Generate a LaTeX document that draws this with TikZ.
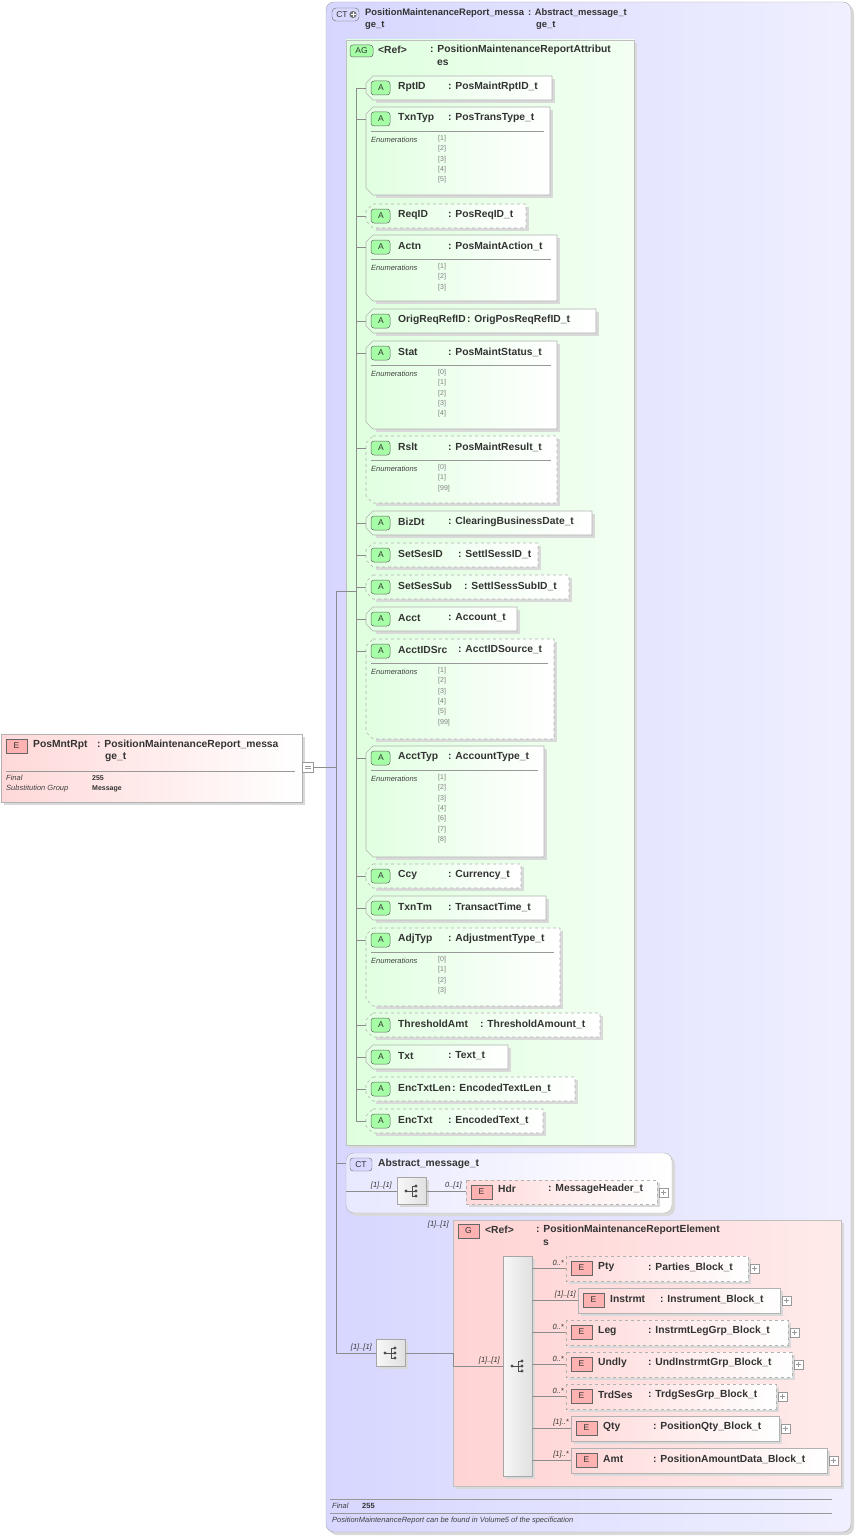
\documentclass[tikz,border=0pt]{standalone}
\usepackage{fontspec}
\setmainfont{Liberation Sans}
\begin{document}
\begin{tikzpicture}[x=1pt,y=-1pt,
  every node/.style={inner sep=0pt, font=\fontsize{10.3}{12}\selectfont\bfseries, text=black!80},
  head/.style={font=\fontsize{9.4}{11}\selectfont\bfseries},
  line/.style={draw=black!45, line width=0.6pt},
  attrbox/.style={draw=black!30, line width=0.6pt, left color=green!12, right color=white},
  elbox/.style={draw=black!30, line width=0.6pt, left color=red!15, right color=white},
  badgeA/.style={draw=black!60, fill=green!35, rounded corners=3pt, line width=0.5pt},
  badgeE/.style={draw=black!60, fill=red!30, line width=0.5pt},
  badgetext/.style={font=\fontsize{8.5}{9}\selectfont\mdseries},
  small/.style={font=\fontsize{7.5}{9}\selectfont\itshape, text=black!75},
  enum/.style={font=\fontsize{7}{10.4}\selectfont, text=black!50, align=left},
  plus/.style={draw=black!40, fill=white, line width=0.4pt}]
\useasboundingbox (0,0) rectangle (856,1536);

% outer complex type
\fill[black!15, rounded corners=8pt] (329,5) rectangle (854,1535);
\draw[draw=black!35, left color=blue!16, right color=blue!6, rounded corners=8pt] (326,2) rectangle (851,1532);
\draw[draw=black!60, fill=blue!15, rounded corners=4pt] (332,8) rectangle (359,21);
\node[badgetext] at (342,14.5) {CT};
\fill[black!55] (353,14.5) circle (3.6pt);
\draw[white, line width=0.8pt] (350.5,14.5) -- (355.5,14.5) (353,12) -- (353,17);
\node[head, anchor=west] (ctname) at (365,13) {PositionMaintenanceReport\_messa};
\node[head, anchor=west] at (365,25) {ge\_t};
\node[head, anchor=west] (cttype) at (528,13) {: Abstract\_message\_t};
\node[head, anchor=west] at (536,25) {ge\_t};

% attribute group
\fill[black!15] (349,43) rectangle (637,1148);
\draw[draw=black!25, left color=green!13, right color=green!5] (346,40) rectangle (634,1145);
\draw[badgeA] (350,45) rectangle (373,57);
\node[badgetext] at (361.5,51) {AG};
\node[anchor=west] (agref) at (378,50) {<Ref>};
\node[anchor=west] (agtype) at (430,50) {: PositionMaintenanceReportAttribut};
\node[anchor=west] at (437,63) {es};

\newcommand\attr[8]{%
  \fill[black!15] (376,#1+3) -- (#3+3,#1+3) -- (#3+3,#2+3) -- (376,#2+3) -- cycle;
  \draw[attrbox,#4] (373,#1) -- (#3,#1) -- (#3,#2) -- (373,#2) -- (366,#2-7) -- (366,#1+7) -- cycle;
  \draw[badgeA] (371,#1+5) rectangle (390,#1+19);
  \node[badgetext] at (381,#1+12) {A};
  \node[anchor=west] (n#5) at (398,#1+11) {#5};
  \node[anchor=west] (t#5) at (#6,#1+11) {: #7};
  \draw[line] (356,#1+12) -- (366,#1+12);
  \if\relax\detokenize{#8}\relax\else
    \draw[draw=black!40, line width=0.5pt] (371,#1+24) -- (#3-6,#1+24);
    \node[small, anchor=west] (e#5) at (371,#1+33) {Enumerations};
    \node[enum, anchor=north west] at (438,#1+28) {#8};
  \fi}

\draw[line] (356,88) -- (356,1121);
\attr{76}{100}{552}{solid}{RptID}{448}{PosMaintRptID\_t}{}
\attr{107}{195}{550}{solid}{TxnTyp}{448}{PosTransType\_t}{{[1]}\\{[2]}\\{[3]}\\{[4]}\\{[5]}}
\attr{204}{228}{526}{dashed}{ReqID}{448}{PosReqID\_t}{}
\attr{235}{301}{557}{solid}{Actn}{448}{PosMaintAction\_t}{{[1]}\\{[2]}\\{[3]}}
\attr{309}{333}{596}{solid}{OrigReqRefID}{467}{OrigPosReqRefID\_t}{}
\attr{341}{429}{557}{solid}{Stat}{448}{PosMaintStatus\_t}{{[0]}\\{[1]}\\{[2]}\\{[3]}\\{[4]}}
\attr{436}{503}{557}{dashed}{Rslt}{448}{PosMaintResult\_t}{{[0]}\\{[1]}\\{[99]}}
\attr{511}{535}{592}{solid}{BizDt}{448}{ClearingBusinessDate\_t}{}
\attr{543}{567}{538}{dashed}{SetSesID}{458}{SettlSessID\_t}{}
\attr{575}{599}{569}{dashed}{SetSesSub}{464}{SettlSessSubID\_t}{}
\attr{607}{631}{517}{solid}{Acct}{448}{Account\_t}{}
\attr{639}{739}{554}{dashed}{AcctIDSrc}{458}{AcctIDSource\_t}{{[1]}\\{[2]}\\{[3]}\\{[4]}\\{[5]}\\{[99]}}
\attr{746}{857}{544}{solid}{AcctTyp}{448}{AccountType\_t}{{[1]}\\{[2]}\\{[3]}\\{[4]}\\{[6]}\\{[7]}\\{[8]}}
\attr{864}{888}{521}{dashed}{Ccy}{448}{Currency\_t}{}
\attr{896}{920}{546}{solid}{TxnTm}{448}{TransactTime\_t}{}
\attr{928}{1006}{560}{dashed}{AdjTyp}{448}{AdjustmentType\_t}{{[0]}\\{[1]}\\{[2]}\\{[3]}}
\attr{1013}{1037}{600}{dashed}{ThresholdAmt}{480}{ThresholdAmount\_t}{}
\attr{1045}{1069}{508}{solid}{Txt}{448}{Text\_t}{}
\attr{1077}{1101}{575}{dashed}{EncTxtLen}{452}{EncodedTextLen\_t}{}
\attr{1109}{1133}{543}{dashed}{EncTxt}{448}{EncodedText\_t}{}

% sequence icon
\newcommand\seqicon[3]{%
  \fill[black!15] (#2-12,#3-11) rectangle (#2+17,#3+16);
  \draw[draw=black!35, left color=black!3, right color=black!12] (#2-15,#3-14) rectangle (#2+14,#3+13);
  \coordinate (#1) at (#2,#3);
  \fill[black!70] (#2-6,#3) circle (1.6pt) (#2+4,#3-5) circle (1.6pt) (#2+4,#3) circle (1.6pt) (#2+4,#3+5) circle (1.6pt);
  \draw[black!70, line width=0.7pt] (#2-6,#3) -- (#2+4,#3) (#2,#3-5) -- (#2,#3+5) (#2,#3-5) -- (#2+4,#3-5) (#2,#3+5) -- (#2+4,#3+5);}
\newcommand\card[3]{\node[small, text=black!80, anchor=south east] at (#1,#2) {#3};}

% abstract message type
\fill[black!15, rounded corners=8pt] (349,1156) rectangle (675,1216);
\draw[draw=black!30, left color=blue!9, right color=white, rounded corners=8pt] (346,1153) rectangle (672,1213);
\draw[draw=black!60, fill=blue!15, rounded corners=3pt] (350,1158) rectangle (372,1171);
\node[badgetext] at (361,1164.5) {CT};
\node[anchor=west] (absname) at (378,1164) {Abstract\_message\_t};
\seqicon{seq1}{412}{1191}
\card{392}{1189}{[1]..[1]}
\card{462}{1189}{0..[1]}
\fill[black!15] (469,1183) rectangle (660,1207);
\draw[elbox, dashed] (466,1180) rectangle (657,1204);
\draw[badgeE] (471,1185) rectangle (492,1199);
\node[badgetext] at (481.5,1192) {E};
\node[anchor=west] (hdr) at (498,1189) {Hdr};
\node[anchor=west] at (548,1189) {: MessageHeader\_t};
\draw[plus] (659,1188) rectangle (668,1197);
\draw[black!40, line width=0.4pt] (661,1192.5) -- (666,1192.5) (663.5,1190) -- (663.5,1195);
\draw[line] (346,1191) -- (397,1191) (427,1191) -- (466,1191);

% element group
\fill[black!15] (456,1223) rectangle (844,1489);
\draw[draw=black!25, left color=red!17, right color=red!8] (453,1220) rectangle (841,1486);
\card{449}{1228}{[1]..[1]}
\draw[badgeE] (458,1224) rectangle (479,1238);
\node[badgetext] at (468.5,1231) {G};
\node[anchor=west] (gref) at (485,1230) {<Ref>};
\node[anchor=west] (gtype) at (536,1230) {: PositionMaintenanceReportElement};
\node[anchor=west] at (543,1243) {s};
\fill[black!15] (506,1259) rectangle (535,1479);
\draw[draw=black!35, left color=black!3, right color=black!12] (503,1256) rectangle (532,1476);
\coordinate (seq3) at (518,1366);
\fill[black!70] (512,1366) circle (1.6pt) (522,1361) circle (1.6pt) (522,1366) circle (1.6pt) (522,1371) circle (1.6pt);
\draw[black!70, line width=0.7pt] (512,1366) -- (522,1366) (518,1361) -- (518,1371) (518,1361) -- (522,1361) (518,1371) -- (522,1371);
\card{500}{1364}{[1]..[1]}

\newcommand\elem[8]{% top left right style name colonx type card
  \fill[black!15] (#2+3,#1+3) rectangle (#3+3,#1+28);
  \draw[elbox,#4] (#2,#1) rectangle (#3,#1+25);
  \draw[badgeE] (#2+5,#1+5) rectangle (#2+26,#1+19);
  \node[badgetext] at (#2+15.5,#1+12) {E};
  \node[anchor=west] (el#5) at (#2+32,#1+11) {#5};
  \node[anchor=west] at (#6,#1+11) {: #7};
  \draw[plus] (#3+2,#1+8) rectangle (#3+11,#1+17);
  \draw[black!40, line width=0.4pt] (#3+4,#1+12.5) -- (#3+9,#1+12.5) (#3+6.5,#1+10) -- (#3+6.5,#1+15);
  \draw[line] (532,#1+12) -- (#2,#1+12);
  \card{#2-2}{#1+10}{#8}}
\elem{1256}{566}{748}{dashed}{Pty}{648}{Parties\_Block\_t}{0..*}
\elem{1288}{578}{780}{solid}{Instrmt}{660}{Instrument\_Block\_t}{[1]..[1]}
\elem{1320}{566}{788}{dashed}{Leg}{648}{InstrmtLegGrp\_Block\_t}{0..*}
\elem{1352}{566}{792}{dashed}{Undly}{648}{UndInstrmtGrp\_Block\_t}{0..*}
\elem{1384}{566}{776}{dashed}{TrdSes}{648}{TrdgSesGrp\_Block\_t}{0..*}
\elem{1416}{571}{779}{solid}{Qty}{653}{PositionQty\_Block\_t}{[1]..*}
\elem{1448}{571}{827}{solid}{Amt}{653}{PositionAmountData\_Block\_t}{[1]..*}

\seqicon{seq2}{391}{1353}
\card{372}{1351}{[1]..[1]}
\draw[line] (406,1353) -- (453,1353) (453,1366) -- (503,1366);
\draw[line] (453,1353) -- (453,1366);

% main content line
\draw[line] (336,591) -- (336,1353) -- (376,1353);
\draw[line] (336,591) -- (356,591);
\draw[line] (336,1163) -- (346,1163);

% footer
\draw[draw=black!40, line width=0.5pt] (330,1499) -- (832,1499) (330,1513) -- (832,1513);
\node[small, anchor=west] (final) at (332,1506) {Final};
\node[anchor=west, font=\fontsize{7.5}{9}\selectfont\bfseries] at (362,1506) {255};
\node[small, anchor=west] (doc) at (332,1521) {PositionMaintenanceReport can be found in Volume5 of the specification};

% root element
\fill[black!15] (4,737) rectangle (305,805);
\draw[elbox] (1,734) rectangle (302,802);
\draw[badgeE] (6,739) rectangle (27,753);
\node[badgetext] at (16.5,746) {E};
\node[anchor=west] (root) at (33,745) {PosMntRpt};
\node[anchor=west] at (97,745) {: PositionMaintenanceReport\_messa};
\node[anchor=west] at (105,757) {ge\_t};
\draw[draw=black!40, line width=0.5pt] (6,771) -- (295,771);
\node[small, anchor=west] at (6,778) {Final};
\node[small, anchor=west] at (6,789) {Substitution Group};
\node[anchor=west, font=\fontsize{7}{9}\selectfont\bfseries] at (92,778) {255};
\node[anchor=west, font=\fontsize{7}{9}\selectfont\bfseries] at (92,789) {Message};
\draw[plus] (302,762) rectangle (313,772);
\draw[black!40, line width=0.4pt] (304.5,766) -- (310.5,766) (304.5,768) -- (310.5,768);
\coordinate (rootout) at (313,767);
\coordinate (ctin) at (336,767);
\draw[line] (rootout) -- (ctin);
\end{tikzpicture}
\end{document}
